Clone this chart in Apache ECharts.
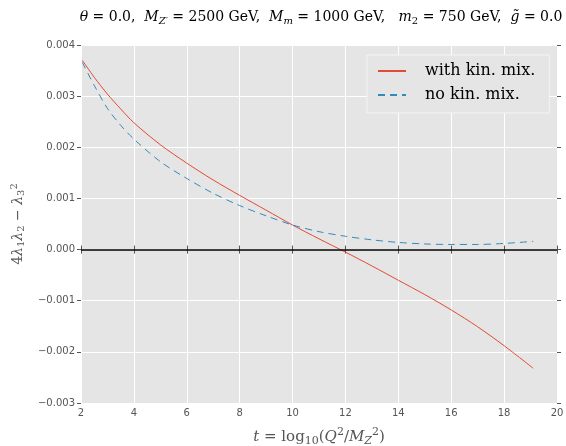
<!DOCTYPE html>
<html>
<head>
<meta charset="utf-8">
<script src="https://cdn.jsdelivr.net/npm/echarts@6/dist/echarts.min.js"></script>
<style>html,body{margin:0;padding:0;background:#fff;}#c{width:566px;height:446px;}</style>
</head>
<body>
<div id="c"></div>
<script>
// Data
var tWith = [2.05, 2.5, 3, 3.5, 4, 5, 6, 7, 8, 9, 10, 11, 12, 13, 14, 15, 16, 17, 18, 19.1];
var withKinMix = [0.0037, 0.00337, 0.00304, 0.00275, 0.00248, 0.00205, 0.00169, 0.00136, 0.00106, 0.00077, 0.00048, 0.00021, -0.00005, -0.00032, -0.0006, -0.00088, -0.00118, -0.00151, -0.00188, -0.00232];
var tNo = [2.05, 2.5, 3, 3.5, 4, 5, 6, 7, 8, 9, 10, 11, 12, 13, 14, 15, 16, 17, 18, 19.1];
var noKinMix = [0.00366, 0.00321, 0.00276, 0.00243, 0.00216, 0.00172, 0.00139, 0.0011, 0.00086, 0.00066, 0.00048, 0.00035, 0.00026, 0.00019, 0.00014, 0.00011, 0.0001, 0.0001, 0.00012, 0.00016];
var seriesNames = ['with kin. mix.', 'no kin. mix.'];
var xTicks = [2, 20, 2];       // min, max, interval
var yTicks = [-0.003, 0.004, 0.001];

function pairs(xs, ys) { return xs.map(function (x, i) { return [x, ys[i]]; }); }

var serif = 'DejaVu Serif';
var sans = 'DejaVu Sans';
var mathRich = function (size, color) {
  var base = {fontFamily: serif, color: color, fontWeight: 'normal'};
  function m(o) { return Object.assign({}, base, o); }
  return {
    r: m({fontSize: size}),
    i: m({fontSize: size, fontStyle: 'italic'}),
    s: m({fontSize: Math.round(size * 0.7), padding: [Math.round(size * 0.5), 0, 0, 0]}),
    si: m({fontSize: Math.round(size * 0.7), fontStyle: 'italic', padding: [Math.round(size * 0.5), 0, 0, 0]}),
    p: m({fontSize: Math.round(size * 0.7), padding: [0, 0, Math.round(size * 0.6), 0]})
  };
};

var chart = echarts.init(document.getElementById('c'), null, {renderer: 'canvas'});
var fmt = function (v) {
  var s = Math.abs(v) < 1e-9 ? '0.000' : v.toFixed(3);
  return s.replace('-', '\u2212');
};

chart.setOption({
  animation: false,
  backgroundColor: '#ffffff',
  title: {
    text: '{i|θ}{r| = 0.0,  }{i|M}{si|Z′}{r| = 2500 GeV,  }{i|M}{si|m}{r| = 1000 GeV,   }{i|m}{s|2}{r| = 750 GeV,  }{i|g̃}{r| = 0.0}',
    left: 316, top: 4, textAlign: 'center',
    textStyle: {fontWeight: 'normal', rich: mathRich(14, '#000')}
  },
  grid: {left: 81, right: 9, top: 45, bottom: 43, show: true, backgroundColor: '#E5E5E5', borderWidth: 0, outerBoundsMode: 'none', containLabel: false},
  legend: {
    orient: 'vertical', left: 367, top: 55,
    padding: [8, 14, 10, 10], itemGap: 8,
    itemWidth: 28, itemHeight: 2,
    backgroundColor: '#E5E5E5', borderColor: '#f4f4f4', borderWidth: 1,
    textStyle: {fontFamily: serif, fontSize: 16, color: '#000', padding: [0, 0, 0, 14]},
    data: seriesNames
  },
  xAxis: [{
    type: 'value', min: xTicks[0], max: xTicks[1], interval: xTicks[2],
    position: 'bottom',
    name: '{i|t}{r| = log}{s|10}{r|(}{i|Q}{p|2}{r|/}{i|M}{si|Z}{p|2}{r|)}',
    nameLocation: 'middle', nameGap: 24,
    nameTextStyle: {rich: mathRich(15, '#555')},
    axisLine: {show: false},
    axisTick: {show: true, length: 4, lineStyle: {color: '#555'}},
    axisLabel: {color: '#555', fontFamily: sans, fontSize: 10, margin: 5},
    splitLine: {show: true, lineStyle: {color: '#ffffff', width: 1}}
  }, {
    type: 'value', min: xTicks[0], max: xTicks[1], interval: xTicks[2],
    position: 'top',
    axisLine: {show: false},
    axisTick: {show: true, length: 4, lineStyle: {color: '#555'}},
    axisLabel: {show: false}, splitLine: {show: false}
  }],
  yAxis: [{
    type: 'value', min: yTicks[0], max: yTicks[1], interval: yTicks[2],
    position: 'left',
    name: '{r|4}{i|λ}{s|1}{i|λ}{s|2}{r| − }{i|λ}{s|3}{p|2}',
    nameLocation: 'middle', nameGap: 54, nameRotate: 90,
    nameTextStyle: {rich: mathRich(14, '#555')},
    axisLine: {show: false},
    axisTick: {show: true, length: 4, lineStyle: {color: '#555'}},
    axisLabel: {color: '#555', fontFamily: sans, fontSize: 10, margin: 6, formatter: fmt},
    splitLine: {show: true, lineStyle: {color: '#ffffff', width: 1}}
  }, {
    type: 'value', min: yTicks[0], max: yTicks[1], interval: yTicks[2],
    position: 'right',
    axisLine: {show: false},
    axisTick: {show: true, length: 4, lineStyle: {color: '#555'}},
    axisLabel: {show: false}, splitLine: {show: false}
  }],
  series: [{
    name: seriesNames[0], type: 'line', xAxisIndex: 0, yAxisIndex: 0,
    data: pairs(tWith, withKinMix), smooth: 0.3, symbol: 'none',
    lineStyle: {color: '#E24A33', width: 1},
    itemStyle: {color: '#E24A33'},
    markLine: {
      silent: true, symbol: 'none', label: {show: false},
      lineStyle: {color: '#000', width: 1.5, type: 'solid'},
      data: [{yAxis: 0}]
    }
  }, {
    name: seriesNames[1], type: 'line', xAxisIndex: 0, yAxisIndex: 0,
    data: pairs(tNo, noKinMix), smooth: 0.3, symbol: 'none',
    lineStyle: {color: '#348ABD', width: 1, type: [7, 5]},
    itemStyle: {color: '#348ABD'}
  }]
});
</script>
</body>
</html>
